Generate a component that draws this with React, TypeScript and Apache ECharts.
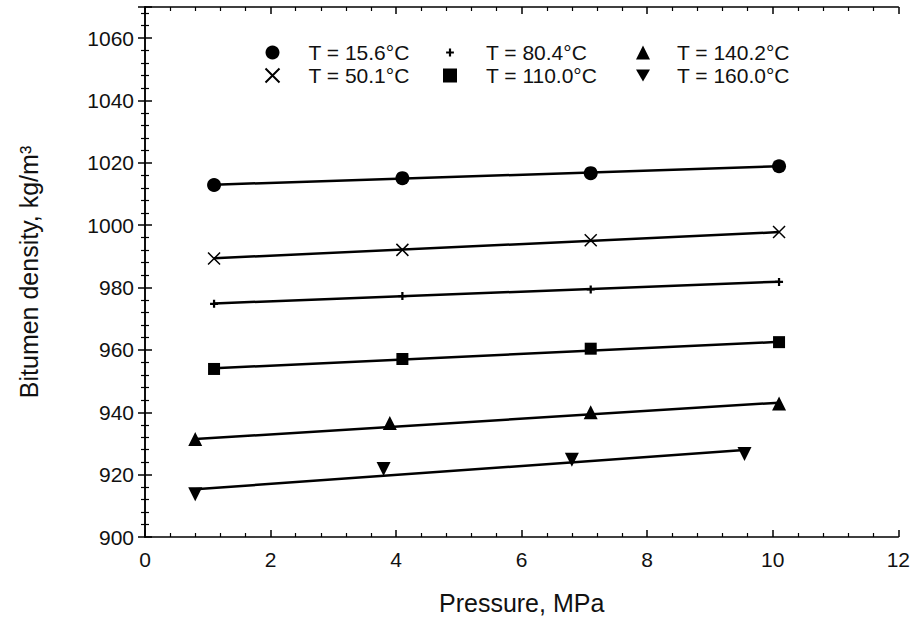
import React, { useEffect, useRef } from "react";
import * as echarts from "echarts";

// ---- data ----
const pressureA = [1.1, 4.1, 7.1, 10.1];
const pressure1402 = [0.8, 3.9, 7.1, 10.1];
const pressure1600 = [0.8, 3.8, 6.8, 9.55];

const rho156 = [1012.9, 1015.1, 1016.7, 1018.9];
const rho501 = [989.3, 992.1, 995.2, 997.8];
const rho804 = [974.8, 977.3, 979.4, 981.8];
const rho1100 = [953.9, 957.1, 960.4, 962.5];
const rho1402 = [931.4, 936.6, 940.0, 942.8];
const rho1600 = [913.7, 921.8, 924.8, 926.6];

// fitted line end points
const fitX156 = [1.1, 10.1];
const fitY156 = [1013.0, 1018.9];
const fitX501 = [1.1, 10.1];
const fitY501 = [989.4, 997.8];
const fitX804 = [1.1, 10.1];
const fitY804 = [974.9, 981.9];
const fitX1100 = [1.1, 10.1];
const fitY1100 = [954.1, 962.6];
const fitX1402 = [0.8, 10.1];
const fitY1402 = [931.4, 943.1];
const fitX1600 = [0.8, 9.6];
const fitY1600 = [915.3, 928.0];

const seriesNames = [
  "T = 15.6°C",
  "T = 50.1°C",
  "T = 80.4°C",
  "T = 110.0°C",
  "T = 140.2°C",
  "T = 160.0°C",
];

const xTicks = [0, 2, 4, 6, 8, 10, 12];
const yTicks = [900, 920, 940, 960, 980, 1000, 1020, 1040, 1060];

const FONT = "Liberation Sans, Arial, sans-serif";

const zip = (xs: number[], ys: number[]) => xs.map((x, i) => [x, ys[i]]);

const CROSS = "path://M0,0L10,10M10,0L0,10";
const PLUS =
  "path://M3.6,0L6.4,0L6.4,3.6L10,3.6L10,6.4L6.4,6.4L6.4,10L3.6,10L3.6,6.4L0,6.4L0,3.6L3.6,3.6Z";
const PLUS_LEGEND =
  "path://M0,0L0.01,0L0,0.01ZM18,18L17.99,18L18,17.99ZM7.6,4L10.4,4L10.4,7.6L14,7.6L14,10.4L10.4,10.4L10.4,14L7.6,14L7.6,10.4L4,10.4L4,7.6L7.6,7.6Z";
const TRI_DOWN = "path://M0,0L10,0L5,8.66Z";

export default function App() {
  const ref = useRef<HTMLDivElement>(null);
  useEffect(() => {
    if (!ref.current) return;
    const chart = echarts.init(ref.current, undefined, { renderer: "svg" });

    const axisLine = { show: true, lineStyle: { color: "#000", width: 1.5 } };
    const commonX = {
      type: "value" as const,
      min: xTicks[0],
      max: xTicks[xTicks.length - 1],
      interval: 2,
      splitLine: { show: false },
      axisLine,
      axisTick: { show: true, inside: true, length: 7, lineStyle: { color: "#000", width: 1.5 } },
      minorTick: { show: true, splitNumber: 5, length: 4, lineStyle: { color: "#000", width: 1.2 } },
    };
    const commonY = {
      type: "value" as const,
      min: yTicks[0],
      max: 1070,
      interval: 20,
      splitLine: { show: false },
      axisLine,
      axisTick: { show: true, inside: true, length: 7, lineStyle: { color: "#000", width: 1.5 } },
      minorTick: { show: true, splitNumber: 5, length: 4, lineStyle: { color: "#000", width: 1.2 } },
    };

    const scatter = (name: string, xs: number[], ys: number[], symbol: string, size: number, extra: any = {}) => ({
      type: "scatter",
      name,
      data: zip(xs, ys),
      symbol,
      symbolSize: size,
      itemStyle: { color: "#000", opacity: 1 },
      z: 3,
      ...extra,
    });
    const fit = (xs: number[], ys: number[]) => ({
      type: "line",
      name: "fit",
      data: zip(xs, ys),
      showSymbol: false,
      symbol: "none",
      lineStyle: { color: "#000", width: 2.5 },
      z: 2,
      silent: true,
    });

    const legendBase = (left: number, pad: number, data: any[]) => ({
      orient: "vertical" as const,
      top: 42,
      left,
      padding: 0,
      itemWidth: 14,
      itemHeight: 14,
      itemGap: 2,
      textStyle: {
        fontFamily: FONT,
        fontSize: 21,
        lineHeight: 20,
        color: "#111",
        padding: [0, 0, 0, pad],
      },
      selectedMode: false,
      data,
    });

    chart.setOption({
      animation: false,
      backgroundColor: "#fff",
      textStyle: { fontFamily: FONT },
      grid: { left: 145, right: 13, top: 7, bottom: 84 },
      legend: [
        legendBase(263, 24, [seriesNames[0], seriesNames[1]]),
        legendBase(443, 24, [{ name: seriesNames[2], icon: PLUS_LEGEND }, seriesNames[3]]),
        legendBase(636, 22, [seriesNames[4], seriesNames[5]]),
      ],
      xAxis: [
        {
          ...commonX,
          position: "bottom",
          name: "Pressure, MPa",
          nameLocation: "middle",
          nameGap: 53,
          nameTextStyle: { fontFamily: FONT, fontSize: 25, color: "#111" },
          axisLabel: { fontFamily: FONT, fontSize: 21, color: "#111", margin: 12 },
        },
        {
          ...commonX,
          position: "top",
          axisLabel: { show: false },
        },
      ],
      yAxis: [
        {
          ...commonY,
          position: "left",
          name: "Bitumen density, kg/m³",
          nameLocation: "middle",
          nameGap: 104,
          nameTextStyle: { fontFamily: FONT, fontSize: 25, color: "#111" },
          axisLabel: {
            fontFamily: FONT,
            fontSize: 21,
            color: "#111",
            margin: 11,
            formatter: (v: number) => (v > 1060 ? "" : String(v)),
          },
        },
        {
          ...commonY,
          position: "right",
          axisLabel: { show: false },
        },
      ],
      series: [
        fit(fitX156, fitY156),
        fit(fitX501, fitY501),
        fit(fitX804, fitY804),
        fit(fitX1100, fitY1100),
        fit(fitX1402, fitY1402),
        fit(fitX1600, fitY1600),
        scatter(seriesNames[0], pressureA, rho156, "circle", 14),
        scatter(seriesNames[1], pressureA, rho501, CROSS, 12, {
          itemStyle: { color: "none", borderColor: "#000", borderWidth: 1.5, opacity: 1 },
        }),
        scatter(seriesNames[2], pressureA, rho804, PLUS, 8),
        scatter(seriesNames[3], pressureA, rho1100, "rect", 12),
        scatter(seriesNames[4], pressure1402, rho1402, "triangle", 14),
        scatter(seriesNames[5], pressure1600, rho1600, TRI_DOWN, 14),
      ],
    });
    return () => chart.dispose();
  }, []);
  return <div ref={ref} style={{ width: 913, height: 621, position: "absolute", left: 0, top: 0 }} />;
}
